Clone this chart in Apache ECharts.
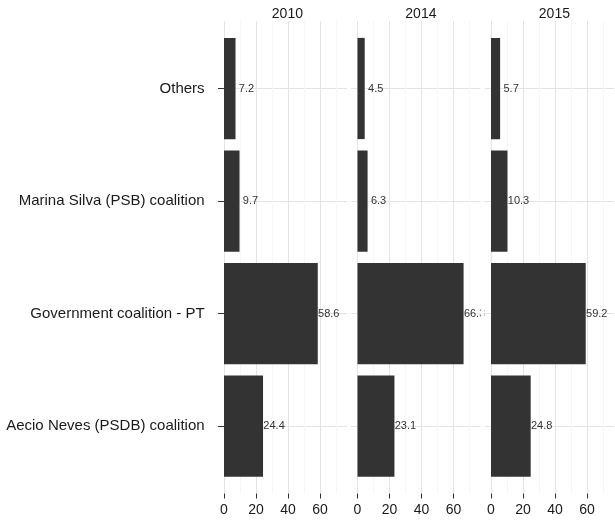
<!DOCTYPE html>
<html>
<head>
<meta charset="utf-8">
<script src="https://cdn.jsdelivr.net/npm/echarts@6/dist/echarts.min.js"></script>
<style>html,body{margin:0;padding:0;background:#fff}#c{width:615px;height:529px}</style>
</head>
<body>
<div id="c"></div>
<script>
const categories = ['Others', 'Marina Silva (PSB) coalition', 'Government coalition - PT', 'Aecio Neves (PSDB) coalition'];
const panels = ['2010', '2014', '2015'];
const values2010 = [7.2, 9.7, 58.6, 24.4];
const values2014 = [4.5, 6.3, 66.3, 23.1];
const values2015 = [5.7, 10.3, 59.2, 24.8];
const xTickMin = 0, xTickMax = 60, xTickStep = 20;
const xMinorMin = 10, xMinorMax = 70;

const seriesValues = [values2010, values2014, values2015];
const FONT = "'Liberation Sans', Arial, sans-serif";
const xMin = -4, xMax = 77;
const pxPerUnit = 1.6;
const panelW = (xMax - xMin) * pxPerUnit;
const firstLeft = 217.6, step = 133.5;
const panelTop = 21, panelH = 472.5;
const tickLen = 5;
const barTop = 32.25, barH = 450, band = barH / categories.length;
const MAJ = '#e4e4e4', MIN = '#f7f7f7';

const grid = [], xAxis = [], yAxis = [], series = [], title = [], graphic = [];
function hiddenY(g) { return {type: 'value', gridIndex: g, min: 0, max: 1, show: false}; }
function hiddenX(g) { return {type: 'value', gridIndex: g, min: 0, max: 1, show: false}; }

panels.forEach((p, i) => {
  const left = firstLeft + i * step;
  const xpos = v => left + (v - xMin) * pxPerUnit;
  const g = grid.length;
  // g: bars, g+1: major lines, g+2: minor lines, g+3: horizontal lines, g+4: tick strip + labels
  grid.push({left: left, top: barTop, width: panelW, height: barH});
  grid.push({left: xpos(xTickMin), top: panelTop, width: (xTickMax - xTickMin) * pxPerUnit, height: panelH});
  grid.push({left: xpos(xMinorMin), top: panelTop, width: (xMinorMax - xMinorMin) * pxPerUnit, height: panelH});
  grid.push({left: left, top: barTop + band / 2, width: panelW, height: band * (categories.length - 1)});
  grid.push({left: xpos(xTickMin), top: panelTop + panelH, width: (xTickMax - xTickMin) * pxPerUnit, height: tickLen});

  const xb = xAxis.length;
  xAxis.push({type: 'value', gridIndex: g, min: xMin, max: xMax, show: false});
  xAxis.push({
    type: 'value', gridIndex: g + 1, min: xTickMin, max: xTickMax, interval: xTickStep,
    axisLine: {show: false}, axisTick: {show: false}, axisLabel: {show: false},
    splitLine: {show: true, lineStyle: {color: MAJ, width: 1}}
  });
  xAxis.push({
    type: 'value', gridIndex: g + 2, min: xMinorMin, max: xMinorMax, interval: xTickStep,
    axisLine: {show: false}, axisTick: {show: false}, axisLabel: {show: false},
    splitLine: {show: true, lineStyle: {color: MIN, width: 1}}
  });
  xAxis.push(hiddenX(g + 3));
  xAxis.push({
    type: 'value', gridIndex: g + 4, min: xTickMin, max: xTickMax, interval: xTickStep, position: 'bottom',
    axisLine: {show: false}, axisTick: {show: false},
    axisLabel: {show: true, fontSize: 14, color: '#1a1a1a', margin: 5, fontFamily: FONT},
    splitLine: {show: true, lineStyle: {color: '#333333', width: 1}}
  });

  const yb = yAxis.length;
  yAxis.push({
    type: 'category', gridIndex: g, data: categories, inverse: true,
    axisLine: {show: false},
    axisTick: {show: i === 0, alignWithLabel: true, length: 6, lineStyle: {color: '#333'}},
    axisLabel: {show: i === 0, fontSize: 15, color: '#1a1a1a', margin: 13, fontFamily: FONT},
    splitLine: {show: false}
  });
  yAxis.push(hiddenY(g + 1));
  yAxis.push(hiddenY(g + 2));
  yAxis.push({
    type: 'value', gridIndex: g + 3, min: 0, max: categories.length - 1, interval: 1,
    axisLine: {show: false}, axisTick: {show: false}, axisLabel: {show: false},
    splitLine: {show: true, lineStyle: {width: 1, color: MAJ}}
  });
  yAxis.push(hiddenY(g + 4));

  series.push({
    type: 'bar', xAxisIndex: xb, yAxisIndex: yb,
    data: seriesValues[i], barWidth: '90%',
    itemStyle: {color: '#333333'},
    label: {
      show: true, position: ['100%', '50%'], offset: [11, 0], align: 'center', verticalAlign: 'middle',
      fontSize: 11, color: '#333', fontFamily: FONT,
      formatter: (d) => d.value.toFixed(1)
    },
    silent: true, animation: false
  });
  title.push({
    text: p, left: left + panelW / 2, top: 2, textAlign: 'center',
    textStyle: {fontSize: 14, fontWeight: 'normal', color: '#1a1a1a', fontFamily: FONT}
  });
  if (i < panels.length - 1) {
    graphic.push({
      type: 'rect', z: 100,
      shape: {x: left + panelW, y: panelTop, width: step - panelW, height: panelH},
      style: {fill: '#ffffff'}, silent: true
    });
  }
});

const chart = echarts.init(document.getElementById('c'), null, {renderer: 'canvas'});
chart.setOption({
  animation: false,
  backgroundColor: '#ffffff',
  textStyle: {fontFamily: FONT},
  title: title, grid: grid, xAxis: xAxis, yAxis: yAxis, series: series, graphic: graphic
});
</script>
</body>
</html>
